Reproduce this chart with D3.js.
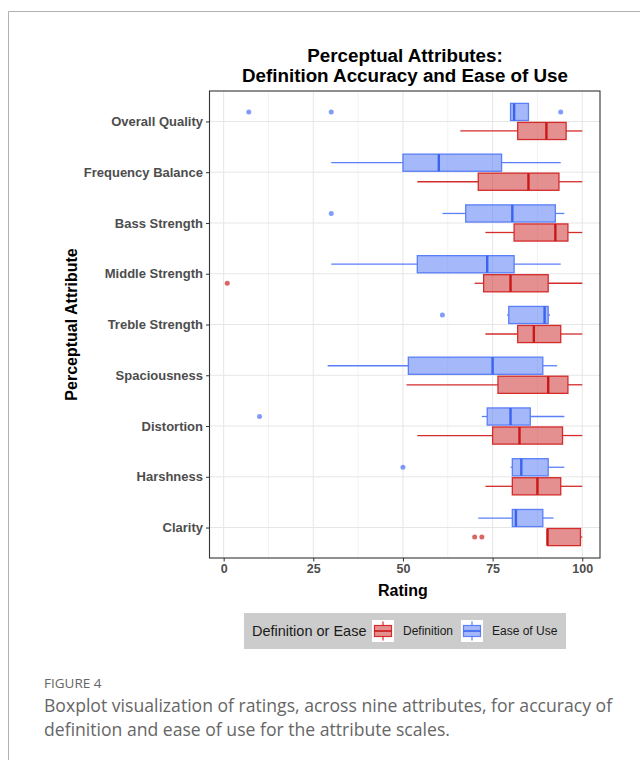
<!DOCTYPE html>
<html>
<head>
<meta charset="utf-8">
<script src="https://cdn.jsdelivr.net/npm/d3@7"></script>
<style>
  body { margin: 0; background: #fff; }
  svg { display: block; }
</style>
</head>
<body>
<svg width="640" height="760"></svg>
<script>
const attributes = [
    "Overall Quality", "Frequency Balance", "Bass Strength", "Middle Strength",
    "Treble Strength", "Spaciousness", "Distortion", "Harshness", "Clarity"
];

// [lower whisker, Q1, median, Q3, upper whisker]
const definitionStats = [
    [66, 82, 90, 95.5, 100],
    [54, 71, 85, 93.5, 100],
    [73, 81, 92.5, 96, 100],
    [70, 72.5, 80, 90.5, 100],
    [73, 82, 86.5, 94, 100],
    [51, 76.5, 90.5, 96, 100],
    [54, 75, 82.5, 94.5, 100],
    [73, 80.5, 87.5, 94, 100],
    [90.3, 90.3, 90.3, 99.5, 100]
];
const easeStats = [
    [80, 80, 81, 85, 85],
    [30, 50, 60, 77.5, 94],
    [61, 67.5, 80.5, 92.5, 95],
    [30, 54, 73.5, 81, 94],
    [79, 79.5, 89.5, 90.5, 91],
    [29, 51.5, 75, 89, 93],
    [72, 73.5, 80, 85.5, 95],
    [80, 80.5, 83, 90.5, 95],
    [71, 80.5, 81.5, 89, 92]
];
const definitionOutliers = [[], [], [], [1], [], [], [], [], [70, 72]];
const easeOutliers = [[7, 30, 94], [], [30], [], [61], [], [10], [50], []];

const xTicks = [0, 25, 50, 75, 100];
const xMinor = [12.5, 37.5, 62.5, 87.5];

const series = [
    { name: "Ease of Use", stats: easeStats, outliers: easeOutliers, side: -1,
      fill: "#4a72f5", stroke: "#5a7ff7", median: "#3a63f0" },
    { name: "Definition", stats: definitionStats, outliers: definitionOutliers, side: 1,
      fill: "#cc2222", stroke: "#d42b2b", median: "#c81818" }
];

const svg = d3.select("svg");
const font = "'Liberation Sans', Arial, sans-serif";

// outer figure frame
svg.append("path")
    .attr("d", "M640,11.5 H8.5 V760")
    .attr("fill", "none")
    .attr("stroke", "#b0b0b0")
    .attr("stroke-width", 1);

const panel = { left: 209.5, right: 600, top: 91, bottom: 558 };

const x = d3.scaleLinear()
    .domain([-3.95, 104.95])
    .range([panel.left, panel.right]);

const y = d3.scalePoint()
    .domain(attributes)
    .range([panel.top, panel.bottom])
    .padding(0.6);

const step = y.step();
const dodge = step * 0.75 / 4;
const boxH = step * 0.375 * 0.9;

// grid
const g = svg.append("g");
g.selectAll(".minor").data(xMinor).enter().append("line")
    .attr("x1", d => x(d)).attr("x2", d => x(d))
    .attr("y1", panel.top).attr("y2", panel.bottom)
    .attr("stroke", "#f2f2f2").attr("stroke-width", 1);
g.selectAll(".major").data(xTicks).enter().append("line")
    .attr("x1", d => x(d)).attr("x2", d => x(d))
    .attr("y1", panel.top).attr("y2", panel.bottom)
    .attr("stroke", "#e6e6e6").attr("stroke-width", 1);
g.selectAll(".hgrid").data(attributes).enter().append("line")
    .attr("x1", panel.left).attr("x2", panel.right)
    .attr("y1", d => y(d)).attr("y2", d => y(d))
    .attr("stroke", "#e6e6e6").attr("stroke-width", 1);

// boxplots
series.forEach(s => {
    const sg = svg.append("g");
    attributes.forEach((a, i) => {
        const [lo, q1, med, q3, hi] = s.stats[i];
        const cy = y(a) + s.side * dodge;
        sg.append("line")
            .attr("x1", x(lo)).attr("x2", x(q1))
            .attr("y1", cy).attr("y2", cy)
            .attr("stroke", s.stroke).attr("stroke-width", 1.3);
        sg.append("line")
            .attr("x1", x(q3)).attr("x2", x(hi))
            .attr("y1", cy).attr("y2", cy)
            .attr("stroke", s.stroke).attr("stroke-width", 1.3);
        sg.append("rect")
            .attr("x", x(q1)).attr("width", x(q3) - x(q1))
            .attr("y", cy - boxH / 2).attr("height", boxH)
            .attr("fill", s.fill).attr("fill-opacity", 0.5)
            .attr("stroke", s.stroke).attr("stroke-width", 1.3);
        sg.append("line")
            .attr("x1", x(med)).attr("x2", x(med))
            .attr("y1", cy - boxH / 2).attr("y2", cy + boxH / 2)
            .attr("stroke", s.median).attr("stroke-width", 2.4);
        sg.selectAll(null).data(s.outliers[i]).enter().append("circle")
            .attr("cx", d => x(d)).attr("cy", cy).attr("r", 2.5)
            .attr("fill", s.fill).attr("fill-opacity", 0.7);
    });
});

// panel border
svg.append("rect")
    .attr("x", panel.left).attr("y", panel.top)
    .attr("width", panel.right - panel.left).attr("height", panel.bottom - panel.top)
    .attr("fill", "none").attr("stroke", "#333").attr("stroke-width", 1.1);

// axes
const xAxis = svg.append("g")
    .attr("transform", `translate(0,${panel.bottom})`)
    .call(d3.axisBottom(x).tickValues(xTicks).tickSize(3.5).tickPadding(3));
const yAxis = svg.append("g")
    .attr("transform", `translate(${panel.left},0)`)
    .call(d3.axisLeft(y).tickSize(3.5).tickPadding(3));
[xAxis, yAxis].forEach(ax => {
    ax.select(".domain").remove();
    ax.selectAll(".tick line").attr("stroke", "#333");
    ax.selectAll(".tick text")
        .attr("fill", "#4d4d4d")
        .style("font-family", font)
        .style("font-weight", "bold");
});
xAxis.selectAll(".tick text").style("font-size", "12.5px");
yAxis.selectAll(".tick text").style("font-size", "13px");

// titles
svg.append("text")
    .attr("x", 405).attr("y", 62)
    .attr("text-anchor", "middle")
    .style("font-family", font).style("font-size", "18.8px").style("font-weight", "bold")
    .text("Perceptual Attributes:");
svg.append("text")
    .attr("x", 405).attr("y", 81.5)
    .attr("text-anchor", "middle")
    .style("font-family", font).style("font-size", "18.8px").style("font-weight", "bold")
    .text("Definition Accuracy and Ease of Use");
svg.append("text")
    .attr("x", x(50)).attr("y", 596)
    .attr("text-anchor", "middle")
    .style("font-family", font).style("font-size", "16px").style("font-weight", "bold")
    .text("Rating");
svg.append("text")
    .attr("transform", `translate(77,${(panel.top + panel.bottom) / 2}) rotate(-90)`)
    .attr("text-anchor", "middle")
    .style("font-family", font).style("font-size", "16px").style("font-weight", "bold")
    .text("Perceptual Attribute");

// legend
const lg = svg.append("g").attr("transform", "translate(244,613)");
lg.append("rect")
    .attr("width", 322).attr("height", 36)
    .attr("fill", "#cccccc");
lg.append("text")
    .attr("x", 8).attr("y", 23)
    .style("font-family", font).style("font-size", "14.5px")
    .attr("fill", "#1a1a1a")
    .text("Definition or Ease");
const legendItems = [series[1], series[0]];
const keyX = [128, 217];
legendItems.forEach((s, i) => {
    const k = lg.append("g").attr("transform", `translate(${keyX[i]},7)`);
    k.append("rect").attr("width", 22).attr("height", 22).attr("fill", "#fff");
    k.append("line").attr("x1", 11).attr("x2", 11).attr("y1", 1.5).attr("y2", 20.5)
        .attr("stroke", s.stroke).attr("stroke-width", 1.2);
    k.append("rect").attr("x", 2.5).attr("y", 5.5).attr("width", 17).attr("height", 11)
        .attr("fill", "#fff");
    k.append("rect").attr("x", 2.5).attr("y", 5.5).attr("width", 17).attr("height", 11)
        .attr("fill", s.fill).attr("fill-opacity", 0.5)
        .attr("stroke", s.stroke).attr("stroke-width", 1.2);
    k.append("line").attr("x1", 2.5).attr("x2", 19.5).attr("y1", 11).attr("y2", 11)
        .attr("stroke", s.median).attr("stroke-width", 1.6);
    lg.append("text")
        .attr("x", keyX[i] + 31).attr("y", 22)
        .style("font-family", font).style("font-size", "12px")
        .attr("fill", "#1a1a1a")
        .text(s.name);
});

// caption
svg.append("text")
    .attr("x", 44).attr("y", 688)
    .style("font-family", "'Open Sans', sans-serif").style("font-size", "13.5px")
    .attr("fill", "#666")
    .text("FIGURE 4");
const captionLines = [
    "Boxplot visualization of ratings, across nine attributes, for accuracy of",
    "definition and ease of use for the attribute scales."
];
svg.selectAll(".cap").data(captionLines).enter().append("text")
    .attr("x", 44).attr("y", (d, i) => 712 + i * 24)
    .style("font-family", "'Open Sans', sans-serif").style("font-size", "17.6px")
    .attr("fill", "#666")
    .text(d => d);
</script>
</body>
</html>
